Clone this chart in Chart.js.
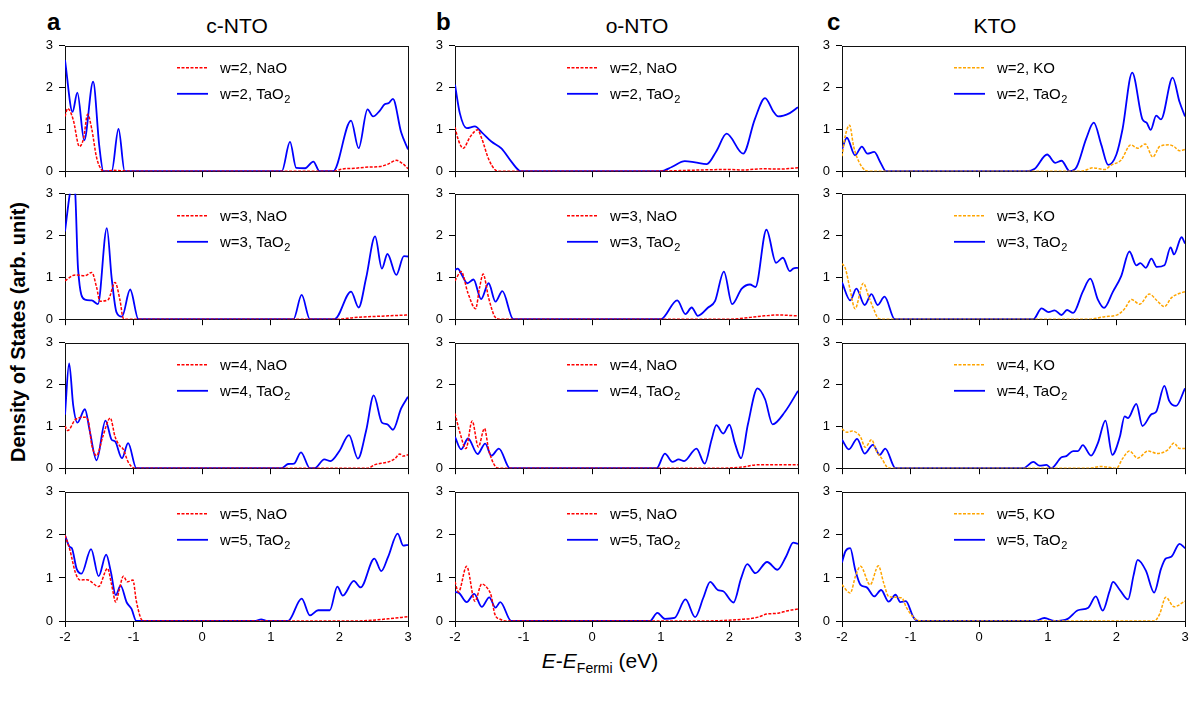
<!DOCTYPE html>
<html>
<head>
<meta charset="utf-8">
<script src="https://cdn.jsdelivr.net/npm/chart.js@4.4.1/dist/chart.umd.min.js"></script>
<style>
body{margin:0;background:#fff;width:1196px;height:702px;position:relative;overflow:hidden;font-family:"Liberation Sans",Arial,sans-serif;}
canvas{position:absolute;}
.lbl{position:absolute;white-space:nowrap;color:#000;line-height:1;}
</style>
</head>
<body>

<div class="lbl" style="left:47px;top:10px;font-size:24px;font-weight:bold;">a</div>
<div class="lbl" style="left:436px;top:10px;font-size:24px;font-weight:bold;">b</div>
<div class="lbl" style="left:827px;top:10px;font-size:24px;font-weight:bold;">c</div>

<div class="lbl" style="left:237px;top:15px;font-size:21px;transform:translateX(-50%);">c-NTO</div>
<div class="lbl" style="left:637px;top:15px;font-size:21px;transform:translateX(-50%);">o-NTO</div>
<div class="lbl" style="left:995px;top:15px;font-size:21px;transform:translateX(-50%);">KTO</div>

<div class="lbl" style="left:18px;top:332px;font-size:20px;font-weight:bold;transform:translate(-50%,-50%) rotate(-90deg);">Density of States (arb. unit)</div>
<div class="lbl" style="left:600px;top:650px;font-size:21px;transform:translateX(-50%);"><i>E</i>-<i>E</i><sub style="font-size:14px;">Fermi</sub> (eV)</div>

<script>
// axes
const xTicks = [-2, -1, 0, 1, 2, 3];
const yTicks = [0, 1, 2, 3];
const widthsW = [2, 3, 4, 5];
const cationLayer = ['NaO', 'NaO', 'KO'];
const dashColors = ['#ff0000', '#ff0000', '#ffa500'];

// c-NTO
const cNTO_w2_NaO = [[-2,1.31],[-1.96,1.50],[-1.88,1.23],[-1.79,0.59],[-1.73,0.78],[-1.67,1.36],[-1.61,1.01],[-1.54,0.33],[-1.47,0.04],[-1.42,0],[-1.3,0.02],[-1.15,0.01],[-1.05,0],[1.93,0],[2.03,0.05],[2.22,0.07],[2.44,0.1],[2.59,0.11],[2.71,0.17],[2.83,0.26],[2.93,0.17],[3.0,0.06]];
const cNTO_w2_TaO2 = [[-2,2.66],[-1.89,1.42],[-1.82,1.88],[-1.72,0.74],[-1.59,2.14],[-1.5,0.6],[-1.44,0],[-1.32,0],[-1.22,1.01],[-1.13,0],[1.16,0],[1.28,0.70],[1.37,0.08],[1.5,0.07],[1.62,0.23],[1.71,0],[1.91,0],[2.17,1.21],[2.28,0.55],[2.41,1.48],[2.49,1.31],[2.59,1.45],[2.66,1.60],[2.72,1.63],[2.78,1.73],[2.90,0.93],[3.0,0.52]];
const cNTO_w3_NaO = [[-2,0.92],[-1.85,1.06],[-1.71,1.04],[-1.61,1.12],[-1.54,0.77],[-1.49,0.43],[-1.37,0.47],[-1.27,0.88],[-1.2,0.47],[-1.15,0.02],[-1.1,0],[1.98,0],[2.22,0.04],[2.71,0.08],[3.0,0.1]];
const cNTO_w3_TaO2 = [[-2,2.1],[-1.93,3.0],[-1.88,3.4],[-1.85,3.0],[-1.81,1.21],[-1.71,0.47],[-1.61,0.45],[-1.52,0.36],[-1.39,2.18],[-1.32,0.99],[-1.25,0.17],[-1.17,0.06],[-1.05,0.71],[-0.93,0],[1.33,0],[1.45,0.58],[1.57,0],[1.93,0],[2.17,0.66],[2.28,0.28],[2.39,0.99],[2.52,1.98],[2.62,1.21],[2.70,1.56],[2.83,1.06],[2.94,1.51],[3.0,1.50]];
const cNTO_w4_NaO = [[-2,1.01],[-1.96,0.9],[-1.85,1.16],[-1.71,1.22],[-1.66,1.13],[-1.61,0.56],[-1.54,0.3],[-1.45,0.75],[-1.34,1.2],[-1.27,0.75],[-1.2,0.53],[-1.15,0.45],[-1.08,0.15],[-0.98,0],[2.42,0],[2.51,0.08],[2.71,0.15],[2.81,0.23],[2.88,0.34],[2.93,0.29],[3.0,0.32]];
const cNTO_w4_TaO2 = [[-2,1.28],[-1.94,2.51],[-1.88,1.5],[-1.82,1.09],[-1.71,1.41],[-1.64,0.9],[-1.54,0.19],[-1.41,1.14],[-1.32,0.68],[-1.27,0.64],[-1.17,0.24],[-1.08,0.6],[-0.96,0],[1.16,0],[1.25,0.1],[1.34,0.11],[1.44,0.38],[1.57,0],[1.64,0],[1.78,0.21],[1.87,0.17],[2.0,0.41],[2.14,0.79],[2.27,0.23],[2.39,0.9],[2.5,1.74],[2.62,1.09],[2.7,1.05],[2.78,0.92],[2.9,1.43],[3.0,1.71]];
const cNTO_w5_NaO = [[-2,1.99],[-1.93,1.66],[-1.85,1.13],[-1.78,0.95],[-1.68,0.96],[-1.51,0.8],[-1.38,1.22],[-1.32,0.84],[-1.26,0.44],[-1.21,0.72],[-1.15,1.04],[-1.09,0.91],[-1.01,0.95],[-0.96,0.46],[-0.87,0.01],[-0.8,0],[2.22,0],[2.71,0.05],[3.0,0.1]];
const cNTO_w5_TaO2 = [[-2,1.99],[-1.93,1.72],[-1.9,1.69],[-1.83,1.21],[-1.76,1.1],[-1.62,1.67],[-1.51,1.04],[-1.40,1.54],[-1.33,1.13],[-1.26,0.6],[-1.19,0.82],[-1.1,0.43],[-1.03,0.28],[-0.96,0],[0.78,0],[0.86,0.04],[0.94,0],[1.25,0],[1.45,0.52],[1.57,0.13],[1.69,0.25],[1.86,0.25],[1.97,0.8],[2.05,0.59],[2.21,0.93],[2.31,0.78],[2.51,1.45],[2.61,1.16],[2.71,1.49],[2.85,2.03],[2.93,1.75],[3.0,1.77]];

// o-NTO
const oNTO_w2_NaO = [[-2,1.05],[-1.95,0.74],[-1.88,0.55],[-1.78,0.82],[-1.67,0.99],[-1.61,0.78],[-1.51,0.29],[-1.42,0.04],[-1.35,0],[0.8,0],[1.98,0.04],[2.2,0.03],[2.51,0.06],[2.71,0.05],[3.0,0.08]];
const oNTO_w2_TaO2 = [[-2,2.07],[-1.93,1.39],[-1.83,1.03],[-1.71,1.07],[-1.61,0.93],[-1.47,0.71],[-1.32,0.54],[-1.17,0.21],[-1.04,0],[1.0,0],[1.16,0.1],[1.35,0.24],[1.5,0.21],[1.67,0.17],[1.81,0.48],[1.96,0.9],[2.2,0.42],[2.37,1.24],[2.52,1.75],[2.64,1.43],[2.71,1.31],[2.88,1.39],[3.0,1.53]];
const oNTO_w3_NaO = [[-2,0.92],[-1.91,1.14],[-1.81,0.62],[-1.7,0.25],[-1.64,0.77],[-1.59,1.08],[-1.51,0.51],[-1.42,0.06],[-1.35,0],[1.98,0],[2.51,0.08],[2.71,0.1],[3.0,0.08]];
const oNTO_w3_TaO2 = [[-2,1.18],[-1.96,1.21],[-1.9,1.06],[-1.82,0.86],[-1.73,0.95],[-1.62,0.48],[-1.51,0.86],[-1.41,0.42],[-1.31,0.67],[-1.15,0],[1.0,0],[1.24,0.45],[1.36,0.12],[1.45,0.28],[1.54,0.08],[1.69,0.28],[1.79,0.43],[1.92,1.14],[2.04,0.36],[2.18,0.73],[2.3,0.83],[2.38,0.77],[2.54,2.14],[2.68,1.35],[2.78,1.47],[2.88,1.15],[2.93,1.21],[3.0,1.23]];
const oNTO_w4_NaO = [[-2,1.31],[-1.93,0.86],[-1.84,0.47],[-1.75,1.13],[-1.66,0.51],[-1.57,0.95],[-1.51,0.45],[-1.42,0.06],[-1.35,0],[1.9,0],[2.2,0.03],[2.4,0.08],[3.0,0.08]];
const oNTO_w4_TaO2 = [[-2,0.75],[-1.91,0.45],[-1.81,0.71],[-1.67,0.34],[-1.56,0.59],[-1.47,0.3],[-1.36,0.47],[-1.2,0],[0.94,0],[1.06,0.35],[1.17,0.15],[1.26,0.21],[1.34,0.17],[1.52,0.47],[1.64,0.11],[1.74,0.68],[1.81,1.03],[1.91,0.83],[2.0,1.04],[2.08,0.6],[2.17,0.24],[2.27,1.05],[2.41,1.91],[2.52,1.65],[2.63,1.05],[2.81,1.35],[3.0,1.85]];
const oNTO_w5_NaO = [[-2,0.91],[-1.95,0.67],[-1.83,1.27],[-1.71,0.46],[-1.61,0.86],[-1.51,0.72],[-1.47,0.57],[-1.42,0.16],[-1.34,0.04],[-1.25,0],[1.5,0],[2.2,0.04],[2.42,0.09],[2.54,0.16],[2.71,0.18],[2.85,0.24],[3.0,0.28]];
const oNTO_w5_TaO2 = [[-2,0.67],[-1.95,0.66],[-1.83,0.44],[-1.72,0.63],[-1.61,0.33],[-1.5,0.55],[-1.41,0.31],[-1.34,0.44],[-1.18,0],[0.84,0],[0.95,0.19],[1.06,0.05],[1.2,0.07],[1.36,0.5],[1.5,0.09],[1.62,0.54],[1.72,0.91],[1.83,0.72],[1.91,0.69],[2.06,0.43],[2.17,0.99],[2.26,1.32],[2.38,1.11],[2.55,1.37],[2.7,1.19],[2.83,1.51],[2.93,1.82],[3.0,1.79]];

// KTO
const KTO_w2_KO = [[-2,0.36],[-1.95,0.86],[-1.89,1.1],[-1.83,0.59],[-1.76,0.25],[-1.66,0.02],[-1.6,0],[1.49,0],[1.66,0.08],[1.83,0.04],[1.92,0.14],[2.07,0.27],[2.21,0.63],[2.31,0.55],[2.42,0.65],[2.53,0.34],[2.63,0.59],[2.77,0.63],[2.84,0.59],[2.92,0.49],[3.0,0.52]];
const KTO_w2_TaO2 = [[-2,0.52],[-1.93,0.8],[-1.81,0.38],[-1.71,0.59],[-1.63,0.42],[-1.53,0.46],[-1.44,0.21],[-1.36,0],[0.69,0],[0.81,0.06],[0.99,0.4],[1.11,0.2],[1.2,0.25],[1.32,0],[1.42,0.1],[1.56,0.78],[1.67,1.16],[1.78,0.63],[1.88,0.15],[2.0,0.4],[2.09,1.01],[2.23,2.36],[2.38,1.24],[2.44,1.16],[2.5,0.99],[2.58,1.33],[2.65,1.24],[2.82,2.24],[2.92,1.66],[3.0,1.31]];
const KTO_w3_KO = [[-2,1.33],[-1.95,1.21],[-1.88,0.69],[-1.81,0.25],[-1.69,0.86],[-1.61,0.54],[-1.54,0.25],[-1.47,0.02],[-1.4,0],[1.59,0],[1.83,0.06],[2.02,0.11],[2.12,0.25],[2.22,0.47],[2.34,0.36],[2.48,0.6],[2.6,0.43],[2.7,0.3],[2.8,0.51],[2.89,0.6],[3.0,0.66]];
const KTO_w3_TaO2 = [[-2,0.88],[-1.88,0.45],[-1.79,0.73],[-1.67,0.34],[-1.57,0.6],[-1.48,0.34],[-1.38,0.54],[-1.23,0],[0.79,0],[0.91,0.26],[1.01,0.17],[1.1,0.21],[1.2,0.1],[1.28,0.22],[1.37,0.15],[1.51,0.66],[1.62,0.97],[1.73,0.47],[1.82,0.27],[1.95,0.66],[2.07,1.03],[2.19,1.62],[2.29,1.29],[2.35,1.34],[2.43,1.23],[2.51,1.45],[2.59,1.25],[2.7,1.29],[2.79,1.72],[2.84,1.55],[2.95,1.96],[3.0,1.81]];
const KTO_w4_KO = [[-2,0.94],[-1.93,0.86],[-1.85,0.89],[-1.78,0.84],[-1.73,0.75],[-1.66,0.5],[-1.57,0.68],[-1.49,0.38],[-1.42,0.23],[-1.35,0.04],[-1.28,0],[1.6,0],[1.78,0.04],[2.0,0],[2.09,0.23],[2.19,0.41],[2.31,0.24],[2.46,0.41],[2.6,0.35],[2.75,0.44],[2.84,0.6],[2.92,0.47],[3.0,0.47]];
const KTO_w4_TaO2 = [[-2,0.68],[-1.9,0.45],[-1.78,0.7],[-1.67,0.35],[-1.55,0.56],[-1.45,0.32],[-1.37,0.47],[-1.22,0],[0.64,0],[0.79,0.15],[0.88,0.06],[0.98,0.08],[1.05,0],[1.2,0.26],[1.27,0.29],[1.37,0.41],[1.44,0.41],[1.51,0.55],[1.63,0.3],[1.73,0.6],[1.84,1.14],[1.94,0.32],[2.05,0.75],[2.12,1.24],[2.17,1.2],[2.29,1.54],[2.38,1.01],[2.51,1.29],[2.58,1.35],[2.7,1.97],[2.77,1.61],[2.87,1.49],[3.0,1.91]];
const KTO_w5_KO = [[-2,0.84],[-1.88,0.65],[-1.8,1.06],[-1.73,1.27],[-1.59,0.84],[-1.47,1.28],[-1.39,0.87],[-1.32,0.57],[-1.22,0.55],[-1.13,0.54],[-1.06,0.31],[-0.96,0.09],[-0.89,0.01],[-0.8,0],[2.55,0],[2.63,0.16],[2.72,0.55],[2.84,0.33],[3.0,0.46]];
const KTO_w5_TaO2 = [[-2,1.36],[-1.95,1.62],[-1.88,1.69],[-1.81,1.21],[-1.73,0.84],[-1.64,0.78],[-1.53,0.57],[-1.43,0.72],[-1.32,0.45],[-1.22,0.61],[-1.15,0.44],[-1.07,0.46],[-0.96,0.09],[-0.89,0],[0.81,0],[0.95,0.07],[1.1,0],[1.29,0.05],[1.44,0.25],[1.59,0.31],[1.7,0.57],[1.8,0.24],[1.9,0.69],[1.95,0.91],[2.05,0.72],[2.17,0.5],[2.25,1.06],[2.31,1.42],[2.43,1.17],[2.55,0.66],[2.65,1.21],[2.72,1.45],[2.8,1.49],[2.92,1.79],[3.0,1.69]];

const panelData = [
  [[cNTO_w2_NaO, cNTO_w2_TaO2], [cNTO_w3_NaO, cNTO_w3_TaO2], [cNTO_w4_NaO, cNTO_w4_TaO2], [cNTO_w5_NaO, cNTO_w5_TaO2]],
  [[oNTO_w2_NaO, oNTO_w2_TaO2], [oNTO_w3_NaO, oNTO_w3_TaO2], [oNTO_w4_NaO, oNTO_w4_TaO2], [oNTO_w5_NaO, oNTO_w5_TaO2]],
  [[KTO_w2_KO, KTO_w2_TaO2], [KTO_w3_KO, KTO_w3_TaO2], [KTO_w4_KO, KTO_w4_TaO2], [KTO_w5_KO, KTO_w5_TaO2]]
];

// panel placement (page px)
const colLeft = [65, 455, 842];
const rowTop = [42, 190, 339, 488];
const plotW = 343, plotH = 133;

const fontFamily = '"Liberation Sans", Arial, sans-serif';
Chart.defaults.font.family = fontFamily;
Chart.defaults.font.size = 13;
Chart.defaults.color = '#000';

// box round the plot + legend inside it
const panelBox = {
  id: 'panelBox',
  beforeDatasetsDraw(chart) {
    const {ctx, chartArea: a} = chart;
    ctx.save();
    ctx.strokeStyle = '#111';
    ctx.lineWidth = 1;
    ctx.strokeRect(Math.round(a.left) + 0.5, Math.round(a.top) + 0.5, Math.round(a.width), Math.round(a.height));
    ctx.restore();
  },
  afterDatasetsDraw(chart) {
    const {ctx, chartArea: a} = chart;
    ctx.save();
    chart.data.datasets.forEach((ds, i) => {
      const y = a.top + 22 + i * 26;
      const x0 = a.left + 112;
      ctx.strokeStyle = ds.borderColor;
      ctx.lineWidth = ds.borderWidth;
      ctx.setLineDash(ds.borderDash || []);
      ctx.beginPath();
      ctx.moveTo(x0, y);
      ctx.lineTo(x0 + 31, y);
      ctx.stroke();
      ctx.setLineDash([]);
      ctx.fillStyle = '#000';
      ctx.textBaseline = 'alphabetic';
      // trailing "2" of TaO2 drawn as a subscript
      const sub = ds.label.endsWith('O2') && ds.label.includes('Ta');
      const main = sub ? ds.label.slice(0, -1) : ds.label;
      ctx.font = '15px ' + fontFamily;
      ctx.fillText(main, x0 + 43, y + 5.5);
      if (sub) {
        const wMain = ctx.measureText(main).width;
        ctx.font = '11px ' + fontFamily;
        ctx.fillText('2', x0 + 43 + wMain + 0.5, y + 9.5);
      }
    });
    ctx.restore();
  }
};

function makePanel(col, row) {
  const pair = panelData[col][row];
  const last = row === 3;
  const padL = 44, padR = 14, padT = 10, padB = last ? 30 : 10;
  const canvas = document.createElement('canvas');
  canvas.width = padL + plotW + padR;
  canvas.height = padT + plotH + padB;
  canvas.style.left = (colLeft[col] - padL) + 'px';
  canvas.style.top = (rowTop[row] - padT) + 'px';
  document.body.appendChild(canvas);

  const w = widthsW[row];
  new Chart(canvas, {
    type: 'line',
    data: {
      datasets: [{
        label: 'w=' + w + ', ' + cationLayer[col],
        data: pair[0],
        borderColor: dashColors[col],
        borderWidth: 1.5,
        borderDash: [3, 1.5],
        pointRadius: 0,
        cubicInterpolationMode: 'monotone',
        fill: false
      }, {
        label: 'w=' + w + ', TaO2',
        data: pair[1],
        borderColor: '#0000ff',
        borderWidth: 1.8,
        pointRadius: 0,
        cubicInterpolationMode: 'monotone',
        fill: false
      }]
    },
    options: {
      responsive: false,
      animation: false,
      events: [],
      layout: {padding: {left: 0, right: padR, top: padT, bottom: 0}},
      plugins: {legend: {display: false}, tooltip: {enabled: false}},
      scales: {
        x: {
          type: 'linear', min: -2, max: 3,
          afterBuildTicks: s => { s.ticks = xTicks.map(v => ({value: v})); },
          afterFit: s => { s.height = padB; },
          grid: {drawOnChartArea: false, drawTicks: true, tickLength: 6, color: '#000'},
          border: {display: false},
          ticks: {display: last, padding: 3, maxRotation: 0, autoSkip: false, callback: v => String(v)}
        },
        y: {
          type: 'linear', min: 0, max: 3,
          afterBuildTicks: s => { s.ticks = yTicks.map(v => ({value: v})); },
          afterFit: s => { s.width = padL; },
          grid: {drawOnChartArea: false, drawTicks: true, tickLength: 6, color: '#000'},
          border: {display: false},
          ticks: {padding: 6, callback: v => String(v)}
        }
      }
    },
    plugins: [panelBox]
  });
}

for (let c = 0; c < 3; c++) {
  for (let r = 0; r < 4; r++) makePanel(c, r);
}
</script>
</body>
</html>
